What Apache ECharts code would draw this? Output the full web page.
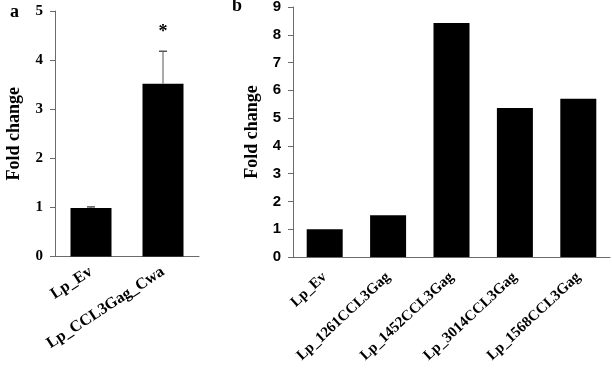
<!DOCTYPE html>
<html>
<head>
<meta charset="utf-8">
<script src="https://cdn.jsdelivr.net/npm/echarts@6/dist/echarts.min.js"></script>
<style>
  html, body { margin: 0; padding: 0; background: #fff; }
  #chart { width: 612px; height: 368px; }
</style>
</head>
<body>
<div id="chart"></div>
<script>
// panel a
const catsA = ['Lp_Ev', 'Lp_CCL3Gag_Cwa']
const valsA = [0.99, 3.52]
const errTopA = [1.01, 4.18]
const sigA = ['', '*']
const ticksA = { min: 0, max: 5, interval: 1 }

// panel b
const catsB = ['Lp_Ev', 'Lp_1261CCL3Gag', 'Lp_1452CCL3Gag', 'Lp_3014CCL3Gag', 'Lp_1568CCL3Gag']
const valsB = [1.0, 1.5, 8.42, 5.36, 5.7]
const ticksB = { min: 0, max: 9, interval: 1 }

const serif = 'Liberation Serif'
const sans = 'Liberation Sans'
const axisGray = '#6b6b6b'

function yAxis(idx, t, font, gap) {
  return {
    type: 'value', gridIndex: idx, min: t.min, max: t.max, interval: t.interval,
    name: 'Fold change', nameLocation: 'middle', nameGap: gap,
    nameTextStyle: { fontFamily: serif, fontWeight: 'bold', fontSize: 18, color: '#000' },
    axisLine: { show: true, lineStyle: { color: axisGray, width: 1 } },
    axisTick: { show: true, length: 5, lineStyle: { color: axisGray } },
    axisLabel: { fontFamily: font, fontWeight: 'bold', fontSize: 15, color: '#000', margin: 12 },
    splitLine: { show: false }
  }
}

function xAxis(idx, cats, fs, rot, margin) {
  return {
    type: 'category', gridIndex: idx, data: cats,
    axisLine: { lineStyle: { color: axisGray, width: 1 } },
    axisTick: { show: false },
    axisLabel: { rotate: rot, interval: 0, fontFamily: serif, fontWeight: 'bold', fontSize: fs, color: '#000', margin: margin }
  }
}

const chart = echarts.init(document.getElementById('chart'))
chart.setOption({
  animation: false,
  grid: [
    { left: 55, top: 11, width: 144, height: 245.5, outerBoundsMode: 'none' },
    { left: 293, top: 7, width: 317, height: 250, outerBoundsMode: 'none' }
  ],
  xAxis: [xAxis(0, catsA, 16, 33, 14), xAxis(1, catsB, 15, 43, 18)],
  yAxis: [yAxis(0, ticksA, serif, 32), yAxis(1, ticksB, sans, 29)],
  graphic: [
    { type: 'text', left: 10, top: 3, style: { text: 'a', fontFamily: serif, fontWeight: 'bold', fontSize: 18, fill: '#000' } },
    { type: 'text', left: 232, top: -3, style: { text: 'b', fontFamily: serif, fontWeight: 'bold', fontSize: 18, fill: '#000' } }
  ],
  series: [
    {
      type: 'bar', xAxisIndex: 0, yAxisIndex: 0, data: valsA, barWidth: 41,
      itemStyle: { color: '#000' }
    },
    {
      type: 'custom', xAxisIndex: 0, yAxisIndex: 0,
      data: valsA.map((v, i) => [i, v, errTopA[i]]),
      renderItem: function (params, api) {
        const i = params.dataIndex
        const base = api.coord([api.value(0), api.value(1)])
        const top = api.coord([api.value(0), api.value(2)])
        const children = [
          { type: 'line', shape: { x1: base[0], y1: base[1], x2: top[0], y2: top[1] }, style: { stroke: '#555', lineWidth: 1 } },
          { type: 'line', shape: { x1: top[0] - 4, y1: top[1], x2: top[0] + 4, y2: top[1] }, style: { stroke: '#555', lineWidth: 1.5 } }
        ]
        if (sigA[i]) {
          children.push({
            type: 'text', x: top[0], y: top[1] - 19,
            style: { text: sigA[i], fontFamily: serif, fontWeight: 'bold', fontSize: 18, fill: '#000', align: 'center', verticalAlign: 'middle' }
          })
        }
        return { type: 'group', children: children }
      },
      z: 3
    },
    {
      type: 'bar', xAxisIndex: 1, yAxisIndex: 1, data: valsB, barWidth: 36,
      itemStyle: { color: '#000' }
    }
  ]
})
</script>
</body>
</html>
